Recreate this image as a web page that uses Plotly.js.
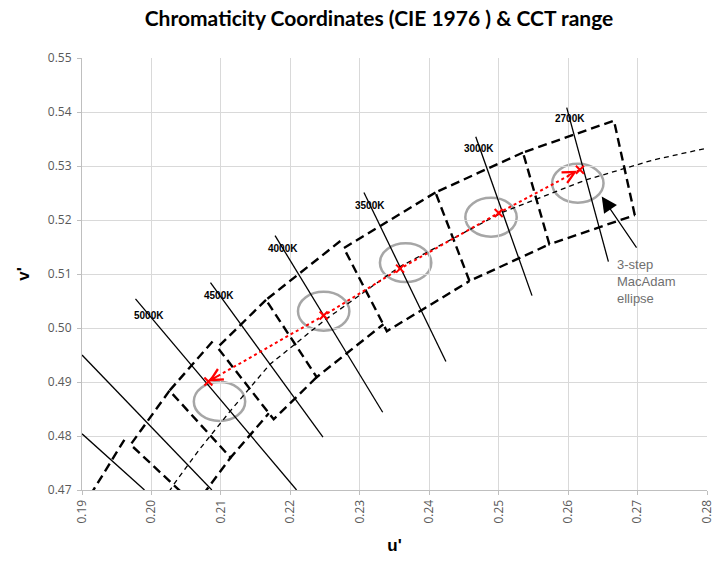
<!DOCTYPE html>
<html><head><meta charset="utf-8">
<script src="https://cdn.plot.ly/plotly-3.0.1.min.js"></script>
<style>html,body{margin:0;padding:0;background:#fff}#chart{width:727px;height:561px}</style>
</head><body><div id="chart"></div>
<script>
// ---- Data (CIE 1976 u', v') ----
const xTicks = [0.19,0.20,0.21,0.22,0.23,0.24,0.25,0.26,0.27,0.28];
const yTicks = [0.47,0.48,0.49,0.50,0.51,0.52,0.53,0.54,0.55];

// CCT isotherm lines (start / end points)
const isoLabels = ['2700K','3000K','3500K','4000K','4500K','5000K','',''];
const isoU1 = [0.2598,0.2467,0.2306,0.2178,0.2085,0.1977,0.1900,0.1900];
const isoV1 = [0.5408,0.5354,0.5251,0.5171,0.5084,0.5054,0.4950,0.4804];
const isoU2 = [0.2658,0.2548,0.2424,0.2333,0.2247,0.2209,0.2087,0.1990];
const isoV2 = [0.5123,0.5060,0.4938,0.4844,0.4798,0.4700,0.4700,0.4700];
const labelU = [0.2603,0.2472,0.2315,0.2189,0.2097,0.1997];
const labelV = [0.5388,0.5332,0.5227,0.5147,0.5061,0.5024];

// ANSI quadrangles (corners: upper-right, upper-left, lower-left, lower-right)
const quadNames = ['2700K','3000K','3500K','4000K','4500K','5000K','5700K','6500K'];
const quadU = [
  [0.2666,0.2535,0.2573,0.2696],
  [0.2535,0.2409,0.2458,0.2573],
  [0.2409,0.2277,0.2339,0.2458],
  [0.2272,0.2165,0.2238,0.2334],
  [0.2165,0.2095,0.2176,0.2238],
  [0.2088,0.2026,0.2114,0.2169],
  [0.2026,0.1970,0.2063,0.2114],
  [0.1961,0.1905,0.2005,0.2055]
];
const quadV = [
  [0.5384,0.5325,0.5155,0.5209],
  [0.5325,0.5251,0.5087,0.5155],
  [0.5251,0.5148,0.4994,0.5087],
  [0.5161,0.5052,0.4909,0.5007],
  [0.5052,0.4964,0.4831,0.4909],
  [0.4975,0.4884,0.4760,0.4842],
  [0.4884,0.4784,0.4672,0.4760],
  [0.4793,0.4676,0.4576,0.4682]
];

// Planckian locus
const planckU = [0.2004,0.2033,0.2069,0.2114,0.2170,0.2251,0.2357,0.2505,0.2625,0.2722,0.2877,0.3052];
const planckV = [0.4655,0.4712,0.4775,0.4847,0.4932,0.5016,0.5113,0.5214,0.5274,0.5311,0.5355,0.5386];

// Red tuning path (2700K -> 5000K)
const redU = [0.2617,0.2500,0.2358,0.2248,0.2082];
const redV = [0.5293,0.5213,0.5110,0.5023,0.4901];

// 3-step MacAdam ellipses
const ellU = [0.2614,0.2489,0.2366,0.2248,0.2098];
const ellV = [0.5268,0.5205,0.5121,0.5031,0.4864];
const ellRu = 0.0037, ellRv = 0.0036;

// ---- Traces ----
const traces = [];
quadU.forEach((us, i) => {
  const vs = quadV[i];
  // the right edge is shared with the neighbouring (warmer) quadrangle, so draw it only once
  const order = i === 0 ? [3, 0, 1, 2, 3] : [0, 1, 2, 3];
  traces.push({
    x: order.map(k => us[k]), y: order.map(k => vs[k]),
    mode: 'lines', line: {color: '#000', width: 2.4, dash: '9px,5px'},
    hoverinfo: 'skip', showlegend: false, name: quadNames[i]
  });
});
traces.push({
  x: planckU, y: planckV, mode: 'lines',
  line: {color: '#000', width: 1.3, dash: '5px,4px'},
  hoverinfo: 'skip', showlegend: false
});
isoU1.forEach((u, i) => {
  traces.push({
    x: [u, isoU2[i]], y: [isoV1[i], isoV2[i]], mode: 'lines',
    line: {color: '#000', width: 1.3}, hoverinfo: 'skip', showlegend: false,
    name: isoLabels[i]
  });
});
traces.push({
  x: redU, y: redV, mode: 'lines+markers',
  line: {color: '#ff0000', width: 2, dash: 'dot'},
  marker: {symbol: 'x-thin', size: 8, color: '#ff0000', line: {color: '#ff0000', width: 2}},
  hoverinfo: 'skip', showlegend: false
});

// ---- Shapes (ellipses) ----
const shapes = ellU.map((u, i) => ({
  type: 'circle', xref: 'x', yref: 'y', layer: 'below',
  x0: u - ellRu, x1: u + ellRu, y0: ellV[i] - ellRv, y1: ellV[i] + ellRv,
  line: {color: '#a6a6a6', width: 2.5}
}));

// ---- Annotations ----
const annotations = [];
labelU.forEach((u, i) => {
  annotations.push({
    x: u, y: labelV[i], xref: 'x', yref: 'y', text: '<b>' + isoLabels[i] + '</b>',
    showarrow: false, font: {family: 'Liberation Sans, Arial, sans-serif', size: 10, color: '#000'}
  });
});
const nR = redU.length - 1;
annotations.push({
  x: redU[nR], y: redV[nR], ax: redU[nR] + 0.0016, ay: redV[nR] + 0.0012,
  xref: 'x', yref: 'y', axref: 'x', ayref: 'y', text: '', showarrow: true,
  arrowhead: 5, arrowsize: 1.3, arrowwidth: 1.8, arrowcolor: '#ff0000'
});
annotations.push({
  x: redU[0] - 0.0004, y: redV[0] - 0.0002, ax: redU[0] - 0.0020, ay: redV[0] - 0.0013,
  xref: 'x', yref: 'y', axref: 'x', ayref: 'y', text: '', showarrow: true,
  arrowhead: 5, arrowsize: 1.3, arrowwidth: 1.8, arrowcolor: '#ff0000'
});
annotations.push({
  x: 0.26484, y: 0.52435, ax: 0.2700, ay: 0.5146,
  xref: 'x', yref: 'y', axref: 'x', ayref: 'y', text: '', showarrow: true,
  arrowhead: 2, arrowsize: 2.6, arrowwidth: 1.2, arrowcolor: '#000'
});
annotations.push({
  x: 0.26670, y: 0.5135, xref: 'x', yref: 'y', xanchor: 'left', yanchor: 'top',
  text: '3-step<br>MacAdam<br>ellipse', align: 'left', showarrow: false,
  font: {family: 'Liberation Sans, Arial, sans-serif', size: 13, color: '#6f6f6f'}
});

const tickFont = {family: 'Open Sans, sans-serif', size: 12, color: '#595959'};
const layout = {
  width: 727, height: 561,
  margin: {l: 82, r: 20, t: 58, b: 71},
  paper_bgcolor: '#fff', plot_bgcolor: '#fff',
  showlegend: false,
  title: {
    text: '<b>Chromaticity Coordinates (CIE 1976 ) &amp; CCT range</b>',
    font: {family: 'Lato, sans-serif', size: 21, color: '#000'},
    x: 0.5213, xanchor: 'center', xref: 'container',
    y: 0.966, yanchor: 'middle', yref: 'container'
  },
  xaxis: {
    range: [0.19, 0.28], autorange: false, tickvals: xTicks, ticktext: xTicks.map(v => v.toFixed(2)),
    tickangle: -90, tickfont: tickFont, showgrid: true, gridcolor: '#d9d9d9', gridwidth: 1,
    showline: true, linecolor: '#bfbfbf', linewidth: 1, ticks: 'outside', ticklen: 4, tickcolor: '#bfbfbf',
    zeroline: false,
    title: {text: "<b>u'</b>", font: {family: 'Liberation Sans, Arial, sans-serif', size: 17, color: '#000'}, standoff: 16}
  },
  yaxis: {
    range: [0.47, 0.55], autorange: false, tickvals: yTicks, ticktext: yTicks.map(v => v.toFixed(2)),
    tickfont: tickFont, showgrid: true, gridcolor: '#d9d9d9', gridwidth: 1,
    showline: true, linecolor: '#bfbfbf', linewidth: 1, ticks: 'outside', ticklen: 4, tickcolor: '#bfbfbf',
    ticklabelstandoff: 3, zeroline: false,
    title: {text: "<b>v'</b>", font: {family: 'Liberation Sans, Arial, sans-serif', size: 17, color: '#000'}, standoff: 13}
  },
  shapes: shapes,
  annotations: annotations
};

Plotly.newPlot('chart', traces, layout, {displayModeBar: false, staticPlot: true});
</script>
</body></html>
